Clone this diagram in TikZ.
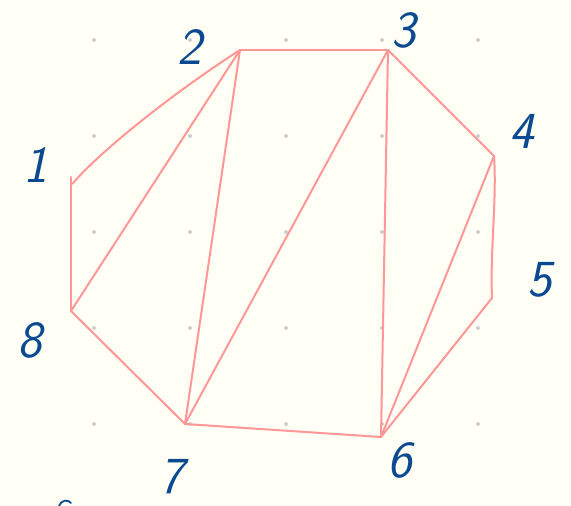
\documentclass[tikz,border=0pt]{standalone}
\usepackage{tikz}
\definecolor{bgcream}{HTML}{FFFFF5}
\definecolor{edgepink}{HTML}{FF9797}
\definecolor{inkblue}{HTML}{0B4A91}
\definecolor{dotgray}{HTML}{CFCFCF}
\begin{document}
\begin{tikzpicture}[x=1pt,y=-1pt,
  edge/.style={draw=edgepink,line width=2pt,line cap=round,line join=round},
  numlabel/.style={text=inkblue,inner sep=0pt,font=\fontsize{52}{52}\selectfont\sffamily\itshape},
  gdot/.style={fill=dotgray,draw=none}]
\useasboundingbox (0,0) rectangle (571,506);
\fill[bgcream] (0,0) rectangle (571,506);
% dot grid
\foreach \gx in {94,190,286,382,478}
  \foreach \gy in {40,136,232,328,424}
    \fill[gdot] (\gx,\gy) circle (2);
% vertices
\coordinate (v1) at (71,177);
\coordinate (v1b) at (74,182);
\coordinate (v2) at (240,50);
\coordinate (v3) at (388,50);
\coordinate (v4) at (494,156);
\coordinate (v5) at (492,298);
\coordinate (v6) at (381,437);
\coordinate (v7) at (185,424);
\coordinate (v8) at (71,311);
% polygon
\draw[edge] (v1b) -- ++(-2,2);
\draw[edge] (v1b) .. controls (100,152) and (170,95) .. (v2);
\draw[edge] (v2) -- (v3);
\draw[edge] (v3) -- (v4);
\draw[edge] (v4) .. controls (497,200) and (490,250) .. (v5);
\draw[edge] (v5) -- (v6);
\draw[edge] (v6) -- (v7);
\draw[edge] (v7) -- (v8);
\draw[edge] (v8) -- (v1);
% diagonals
\draw[edge] (v2) -- (v8);
\draw[edge] (v2) -- (v7);
\draw[edge] (v3) -- (v7);
\draw[edge] (v3) -- (v6);
\draw[edge] (v4) -- (v6);
% labels
\node[numlabel] (l1) at (36,165) {1};
\node[numlabel] (l2) at (190,47) {2};
\node[numlabel] (l3) at (404,30) {3};
\node[numlabel] (l4) at (522,131) {4};
\node[numlabel] (l5) at (540,280) {5};
\node[numlabel] (l6) at (400,460) {6};
\node[numlabel] (l7) at (172,477) {7};
\node[numlabel] (l8) at (30,340) {8};
% cut-off stroke at bottom edge
\draw[draw=inkblue,line width=1.8pt,line cap=round] (59,506) .. controls (61,500) and (68,499) .. (71,503);
\end{tikzpicture}
\end{document}
